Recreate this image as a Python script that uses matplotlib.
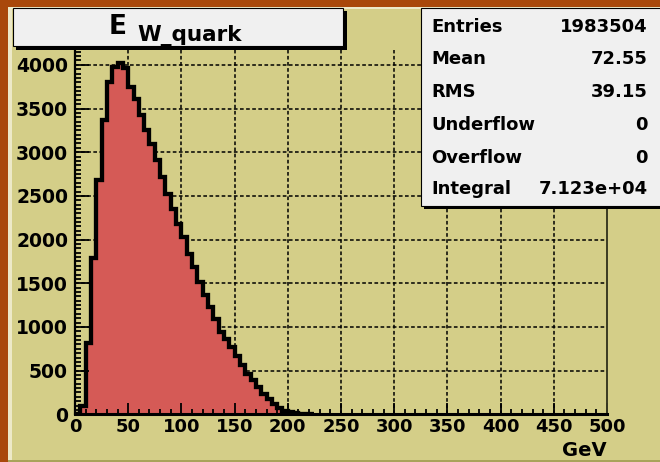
"""E_W_quark energy histogram, drawn in the look of a ROOT canvas."""

import matplotlib
matplotlib.use("Agg")
import matplotlib.pyplot as plt
import numpy as np
from matplotlib.patches import Rectangle
from matplotlib.ticker import MultipleLocator

# --- data ---
bin_width = 5  # GeV
counts = [0, 100, 820, 1790, 2680, 3370, 3805, 3977, 4023, 3966,
          3750, 3614, 3430, 3252, 3098, 2908, 2716, 2525, 2346, 2181,
          2029, 1837, 1685, 1513, 1364, 1226, 1092, 940, 863, 768,
          665, 562, 462, 390, 309, 233, 175, 118, 69, 42,
          25, 12, 5, 2, 0]
stat_names = ["Entries", "Mean", "RMS", "Underflow", "Overflow", "Integral"]
stat_values = ["1983504", "72.55", "39.15", "0", "0", "7.123e+04"]
x_major = [0, 50, 100, 150, 200, 250, 300, 350, 400, 450, 500]
y_major = [0, 500, 1000, 1500, 2000, 2500, 3000, 3500, 4000]

# --- style ---
W, H = 660, 462
ORANGE = "#A9480A"
KHAKI = "#D4CE88"
CREAM = "#EDE9C8"
BOX = "#F0F0F0"
FILL = "#D55A56"
FONT = "DejaVu Sans"

fig = plt.figure(figsize=(W / 100, H / 100), dpi=100, facecolor=ORANGE)


def frect(x0, y0, x1, y1, **kw):
    """Rectangle in pixel coords measured from the top-left corner."""
    r = Rectangle((x0 / W, 1 - y1 / H), (x1 - x0) / W, (y1 - y0) / H,
                  transform=fig.transFigure, **kw)
    fig.add_artist(r)
    return r


def ftext(x, y, s, **kw):
    kw.setdefault("family", FONT)
    kw.setdefault("weight", "bold")
    kw.setdefault("va", "baseline")
    return fig.text(x / W, 1 - y / H, s, **kw)


# pad with a ROOT-like bevel
frect(8, 7, 662, 463, facecolor=KHAKI, edgecolor="none", zorder=-3)
frect(8, 7, 12, 463, facecolor=CREAM, edgecolor="none", zorder=-2)
frect(8, 7, 662, 9, facecolor=CREAM, edgecolor="none", zorder=-2)
frect(8, 459.5, 662, 463, facecolor="#A9A35A", edgecolor="none", zorder=-2)

# axes
ax_l, ax_r, ax_t, ax_b = 75, 607, 50, 414.3
ax = fig.add_axes([ax_l / W, 1 - ax_b / H, (ax_r - ax_l) / W, (ax_b - ax_t) / H])
ax.set_facecolor(KHAKI)

edges = np.arange(len(counts) + 1) * bin_width
ax.stairs(counts, edges, fill=True, color=FILL, zorder=1.0)
ax.stairs(counts, edges, fill=False, color="black", linewidth=3.1, zorder=1.1)

# grid under the histogram, ticks above it
for xv in x_major[1:-1]:
    ax.axvline(xv, color="black", lw=1.1, ls=(0, (2.4, 1.6)), zorder=0.8)
for yv in y_major[1:]:
    ax.axhline(yv, color="black", lw=1.1, ls=(0, (2.4, 1.6)), zorder=0.8)

ax.set_xlim(0, 500)
ax.set_ylim(0, 4170)
ax.set_xticks(x_major)
ax.set_yticks(y_major)
ax.xaxis.set_minor_locator(MultipleLocator(10))
ax.yaxis.set_minor_locator(MultipleLocator(50))
ax.tick_params(axis="x", which="major", direction="in", length=8, width=1.3,
               pad=3, labelsize=13)
ax.tick_params(axis="x", which="minor", direction="in", length=3.8, width=1.3)
ax.tick_params(axis="y", which="major", direction="in", length=10, width=1.3,
               pad=5, labelsize=13.5)
ax.tick_params(axis="y", which="minor", direction="in", length=4.5, width=1.3)
for lab in ax.get_xticklabels() + ax.get_yticklabels():
    lab.set_fontfamily(FONT)
    lab.set_fontweight("bold")

ax.spines["top"].set_visible(False)
ax.spines["left"].set_linewidth(1.6)
ax.spines["bottom"].set_linewidth(2.2)
ax.spines["right"].set_linewidth(1.4)
ax.spines["right"].set_color("#3a3a22")
for s in ax.spines.values():
    s.set_zorder(3)

ftext(607, 456.5, "GeV", ha="right", size=14)

# title box with shadow
frect(16, 11, 346.5, 49.5, facecolor="black", edgecolor="none", zorder=5)
frect(13, 8, 343, 46, facecolor=BOX, edgecolor="black", linewidth=0.8, zorder=6)
ftext(109, 33.5, "E", size=19, zorder=7)
ftext(137, 41.5, "W_quark", size=15.5, zorder=7)

# stats box with shadow
frect(424, 11, 664, 209, facecolor="black", edgecolor="none", zorder=5)
frect(420.5, 8, 662, 205.5, facecolor=BOX, edgecolor="black", linewidth=0.8,
      zorder=6)
row_y = [31.7, 64.5, 97.3, 130.1, 162.9, 194.5]
for name, value, yb in zip(stat_names, stat_values, row_y):
    ftext(431, yb, name, ha="left", size=13, zorder=7)
    ftext(647.5, yb, value, ha="right", size=13, zorder=7)

fig.savefig("out.png", dpi=100, facecolor=fig.get_facecolor())
